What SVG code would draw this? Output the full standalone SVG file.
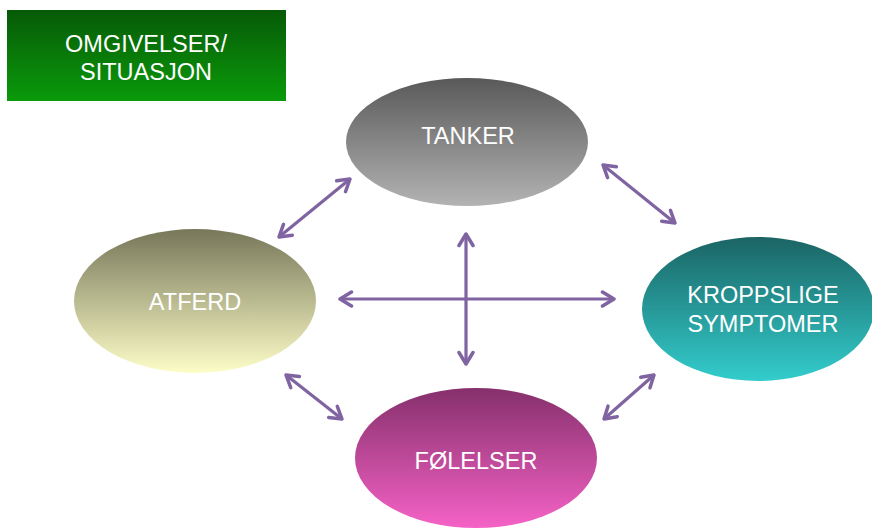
<svg xmlns="http://www.w3.org/2000/svg" width="872" height="528" viewBox="0 0 872 528">
<defs>
<linearGradient id="gGreen" x1="0" y1="0" x2="0" y2="1"><stop offset="0" stop-color="#075a07"/><stop offset="1" stop-color="#0a9a0a"/></linearGradient>
<linearGradient id="gGray" x1="0" y1="0" x2="0" y2="1"><stop offset="0" stop-color="#595959"/><stop offset="1" stop-color="#b3b3b3"/></linearGradient>
<linearGradient id="gOlive" x1="0" y1="0" x2="0" y2="1"><stop offset="0" stop-color="#77775a"/><stop offset="1" stop-color="#fdfdc8"/></linearGradient>
<linearGradient id="gTeal" x1="0" y1="0" x2="0" y2="1"><stop offset="0" stop-color="#1b6464"/><stop offset="1" stop-color="#33cccc"/></linearGradient>
<linearGradient id="gPink" x1="0" y1="0" x2="0" y2="1"><stop offset="0" stop-color="#86306c"/><stop offset="1" stop-color="#f562c6"/></linearGradient>
<marker id="arr" markerUnits="userSpaceOnUse" viewBox="0 0 16 18" refX="14" refY="9" markerWidth="16" markerHeight="18" orient="auto-start-reverse">
<path d="M2.5,2 L14,9 L2.5,16" fill="none" stroke="#8064a2" stroke-width="3.5" stroke-linecap="round" stroke-linejoin="round"/>
</marker>
<style>
.lbl{font-family:"Liberation Sans",Arial,sans-serif;font-size:23.5px;fill:#ffffff;text-anchor:middle}
.con{stroke:#8064a2;stroke-width:3.2;fill:none;marker-start:url(#arr);marker-end:url(#arr)}
</style>
</defs>
<g id="omgivelser">
<rect x="7" y="10" width="279" height="91" fill="url(#gGreen)"/>
<text class="lbl" x="146" y="52">OMGIVELSER/</text>
<text class="lbl" x="146" y="80">SITUASJON</text>
</g>
<g id="tanker">
<ellipse cx="467" cy="142" rx="121" ry="64" fill="url(#gGray)"/>
<text class="lbl" x="468" y="144">TANKER</text>
</g>
<g id="atferd">
<ellipse cx="195" cy="301" rx="121" ry="72" fill="url(#gOlive)"/>
<text class="lbl" x="195" y="310">ATFERD</text>
</g>
<g id="kroppslige">
<ellipse cx="758" cy="309" rx="116" ry="72" fill="url(#gTeal)"/>
<text class="lbl" x="763" y="303">KROPPSLIGE</text>
<text class="lbl" x="763" y="332">SYMPTOMER</text>
</g>
<g id="folelser">
<ellipse cx="476" cy="458" rx="121" ry="70" fill="url(#gPink)"/>
<text class="lbl" x="476" y="469">FØLELSER</text>
</g>
<g id="connectors">
<line class="con" x1="279" y1="237" x2="350" y2="179"/>
<line class="con" x1="603" y1="165" x2="675" y2="223"/>
<line class="con" x1="466" y1="234" x2="466" y2="364"/>
<line class="con" x1="340" y1="299" x2="614" y2="299"/>
<line class="con" x1="286" y1="375" x2="342" y2="419"/>
<line class="con" x1="654" y1="375" x2="604" y2="419"/>
</g>
</svg>
